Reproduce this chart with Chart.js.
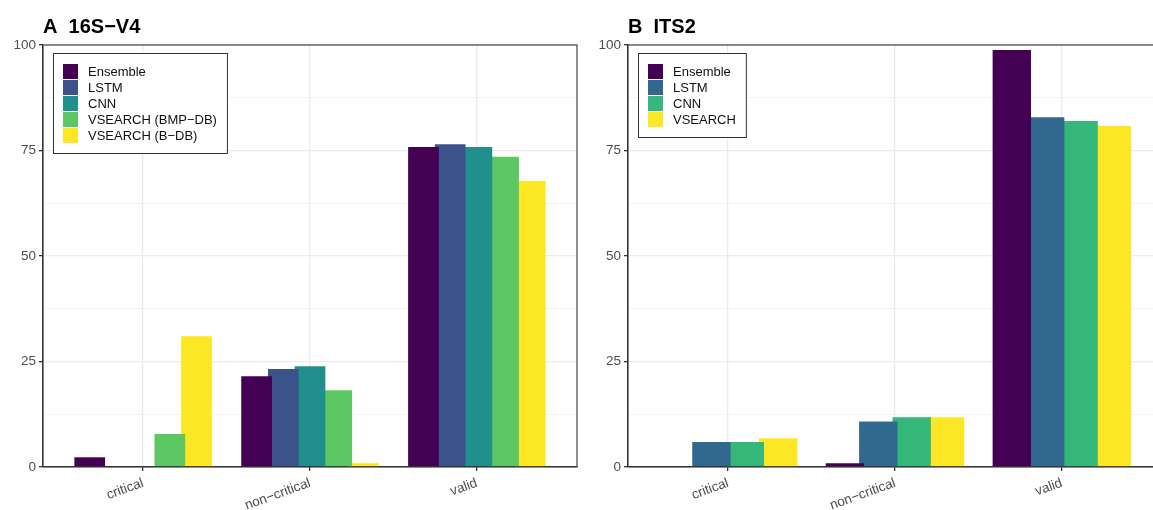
<!DOCTYPE html>
<html>
<head>
<meta charset="utf-8">
<script src="https://cdn.jsdelivr.net/npm/chart.js@4.4.0/dist/chart.umd.min.js"></script>
<style>
  html, body { margin: 0; padding: 0; background: #fff; overflow: hidden; width: 1153px; height: 510px; }
  canvas { position: absolute; top: 0; }
  #left { left: 0; }
  #right { left: 585px; }
</style>
</head>
<body>
<canvas id="left" width="585" height="510"></canvas>
<canvas id="right" width="585" height="510"></canvas>
<script>
// categories and tick labels
const categories = ["critical", "non\u2212critical", "valid"];
const yTicks = [0, 25, 50, 75, 100];

// panel A: 16S-V4
const v4Labels = ["Ensemble", "LSTM", "CNN", "VSEARCH (BMP\u2212DB)", "VSEARCH (B\u2212DB)"];
const v4Colors = ["#440154", "#3B528B", "#21908C", "#5DC863", "#FDE725"];
const v4Ensemble = [2.3, 21.5, 75.8];
const v4Lstm = [0, 23.2, 76.5];
const v4Cnn = [0, 23.9, 75.8];
const v4VsearchBmp = [7.8, 18.2, 73.5];
const v4VsearchB = [31.0, 0.9, 67.8];

// panel B: ITS2
const itsLabels = ["Ensemble", "LSTM", "CNN", "VSEARCH"];
const itsColors = ["#440154", "#31688E", "#35B779", "#FDE725"];
const itsEnsemble = [0, 0.9, 98.8];
const itsLstm = [5.9, 10.8, 82.9];
const itsCnn = [5.9, 11.8, 82.0];
const itsVsearch = [6.8, 11.8, 80.8];

const FONT = "'Liberation Sans', Arial, Helvetica, sans-serif";

// titles, legend box and panel border
const panelDecor = {
  id: "panelDecor",
  afterDraw(chart, args, opts) {
    const ctx = chart.ctx;
    const area = chart.chartArea;
    ctx.save();
    // panel border
    ctx.strokeStyle = "#333333";
    ctx.lineWidth = 1.1;
    ctx.strokeRect(area.left, area.top, area.right - area.left, area.bottom - area.top);

    // title
    ctx.fillStyle = "#000";
    ctx.font = "bold 20px " + FONT;
    ctx.textBaseline = "alphabetic";
    ctx.textAlign = "left";
    ctx.fillText(opts.title, area.left, 33);

    // legend
    const ds = chart.data.datasets;
    ctx.font = "13px " + FONT;
    let maxW = 0;
    ds.forEach(d => { maxW = Math.max(maxW, ctx.measureText(d.label).width); });
    const bx = area.left + 10;
    const by = area.top + 8;
    const bw = 10 + 15 + 10 + maxW + 10;
    const bh = 20 + ds.length * 16;
    ctx.fillStyle = "#fff";
    ctx.fillRect(bx, by, bw, bh);
    ctx.strokeStyle = "#333333";
    ctx.lineWidth = 1;
    ctx.strokeRect(bx + 0.5, by + 0.5, bw, bh);
    ds.forEach((d, i) => {
      const ky = by + 11 + i * 16;
      ctx.fillStyle = d.backgroundColor;
      ctx.fillRect(bx + 10, ky, 15, 15);
      ctx.fillStyle = "#111";
      ctx.textBaseline = "middle";
      ctx.fillText(d.label, bx + 35, ky + 8);
    });
    ctx.restore();
  }
};

function makeDatasets(labels, colors, series) {
  return series.map((values, i) => ({
    label: labels[i],
    data: values,
    backgroundColor: colors[i],
    borderWidth: 0,
    categoryPercentage: 0.8,
    barPercentage: 1.15
  }));
}

function makeOptions(title) {
  return {
    responsive: false,
    animation: false,
    devicePixelRatio: 1,
    layout: { padding: { top: 45, right: 8, left: 0, bottom: 0 } },
    plugins: {
      legend: { display: false },
      tooltip: { enabled: false },
      title: { display: false },
      panelDecor: { title: title }
    },
    scales: {
      x: {
        offset: true,
        afterBuildTicks(scale) {
          // ggplot discrete expansion: 0.6 units each side
          scale._startValue = -0.6;
          scale._valueRange = categories.length - 1 + 1.2;
        },
        afterFit(scale) { scale.height = 43; },
        grid: { offset: false, color: "#ebebeb", lineWidth: 1.3, tickColor: "#333333", tickLength: 4 },
        border: { display: true, color: "#333333", width: 1.1 },
        ticks: {
          minRotation: 20, maxRotation: 20, autoSkip: false, padding: 4,
          color: "#4d4d4d", font: { family: FONT, size: 13.5 }
        }
      },
      y: {
        min: 0, max: 100,
        afterBuildTicks(scale) {
          const t = [];
          for (let v = 0; v <= 100; v += 12.5) t.push({ value: v });
          scale.ticks = t;
        },
        afterFit(scale) { scale.width = 43; },
        grid: {
          color: c => (yTicks.includes(c.tick.value) ? "#ebebeb" : "#f2f2f2"),
          lineWidth: c => (yTicks.includes(c.tick.value) ? 1.3 : 0.9),
          tickColor: c => (yTicks.includes(c.tick.value) ? "#333333" : "rgba(0,0,0,0)"),
          tickLength: 4
        },
        border: { display: true, color: "#333333", width: 1.1 },
        ticks: {
          padding: 3,
          color: "#4d4d4d",
          font: { family: FONT, size: 13.5 },
          callback: v => (yTicks.includes(v) ? String(v) : "")
        }
      }
    }
  };
}

new Chart(document.getElementById("left"), {
  type: "bar",
  data: {
    labels: categories,
    datasets: makeDatasets(v4Labels, v4Colors, [v4Ensemble, v4Lstm, v4Cnn, v4VsearchBmp, v4VsearchB])
  },
  options: makeOptions("A  16S\u2212V4"),
  plugins: [panelDecor]
});

new Chart(document.getElementById("right"), {
  type: "bar",
  data: {
    labels: categories,
    datasets: makeDatasets(itsLabels, itsColors, [itsEnsemble, itsLstm, itsCnn, itsVsearch])
  },
  options: makeOptions("B  ITS2"),
  plugins: [panelDecor]
});
</script>
</body>
</html>
